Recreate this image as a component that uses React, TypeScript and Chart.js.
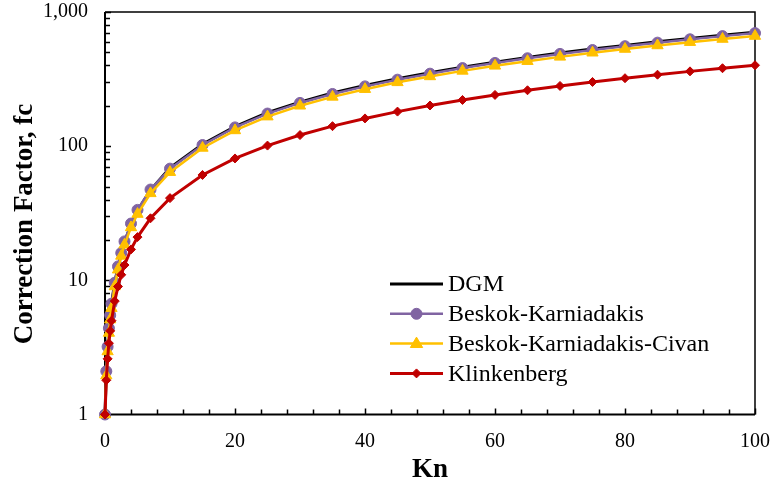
import React, { useEffect, useRef } from "react";
import { Chart, registerables } from "chart.js";

Chart.register(...registerables);

const knValues = [0, 0.2, 0.4, 0.6, 0.8, 1, 1.5, 2, 2.5, 3, 4, 5, 7, 10, 15, 20, 25, 30, 35, 40, 45, 50, 55, 60, 65, 70, 75, 80, 85, 90, 95, 100];

const dgm = [1, 2.1, 3.2, 4.4, 5.5, 6.7, 9.6, 12.6, 15.8, 19.2, 26, 33, 47, 69, 103.5, 140, 178, 213, 249, 283, 318, 352, 388, 423, 459, 494, 529, 564, 600, 635, 671, 706];

const beskokKarniadakis = [1, 2.1, 3.2, 4.4, 5.5, 6.7, 9.6, 12.7, 16, 19.5, 26.5, 33.5, 47.5, 68, 102, 138, 175, 210, 245, 279, 313, 347, 382, 417, 452, 487, 521, 556, 591, 626, 661, 696];

const beskokKarniadakisCivan = [1, 1.95, 2.95, 4.05, 5.1, 6.2, 9.0, 12.0, 15.2, 18.4, 24.8, 31.2, 44.5, 64, 97, 131, 166, 200, 233, 266, 299, 331, 364, 397, 430, 463, 497, 530, 563, 596, 629, 662];

const klinkenberg = [1, 1.8, 2.6, 3.4, 4.2, 5, 7, 9, 11, 13, 17, 21, 29, 41, 61, 81, 101, 121, 141, 161, 181, 201, 221, 241, 261, 281, 301, 321, 341, 361, 381, 401];

const seriesNames = ["DGM", "Beskok-Karniadakis", "Beskok-Karniadakis-Civan", "Klinkenberg"];
const yTickValues = [1, 10, 100, 1000];
const xTitle = "Kn";
const yTitle = "Correction Factor, fc";

const FONT = '"Liberation Serif", "Times New Roman", serif';

const styles = [
  { color: "#000000", width: 3, point: "circle", radius: 0 },
  { color: "#8064A2", width: 2.5, point: "circle", radius: 5.5 },
  { color: "#FFC000", width: 2.5, point: "triangle", radius: 6.5 },
  { color: "#C00000", width: 3, point: "rectRot", radius: 4.5 },
];

const customPlugin = {
  id: "customDecor",
  beforeDatasetsDraw(chart: any) {
    const { ctx, chartArea } = chart;
    const { left, right, top, bottom } = chartArea;
    const xs = chart.scales.x;
    const ys = chart.scales.y;
    ctx.save();
    ctx.strokeStyle = "#000";
    ctx.lineWidth = 1.5;
    ctx.beginPath();
    ctx.moveTo(left, top);
    ctx.lineTo(right, top);
    ctx.lineTo(right, bottom);
    ctx.stroke();
    ctx.lineWidth = 2;
    ctx.beginPath();
    ctx.moveTo(left, top);
    ctx.lineTo(left, bottom);
    ctx.lineTo(right, bottom);
    ctx.stroke();
    ctx.lineWidth = 1.5;
    ctx.beginPath();
    for (let v = 0; v <= 100; v += 4) {
      const px = Math.round(xs.getPixelForValue(v)) + 0.5;
      const len = v % 20 === 0 ? 6 : 5;
      ctx.moveTo(px, bottom);
      ctx.lineTo(px, bottom - len);
    }
    for (let d = 1; d <= 100; d *= 10) {
      for (let m = 1; m <= 9; m++) {
        const v = m * d;
        const py = Math.round(ys.getPixelForValue(v)) + 0.5;
        const len = m === 1 ? 6 : 5;
        ctx.moveTo(left, py);
        ctx.lineTo(left + len, py);
      }
    }
    const pyTop = Math.round(ys.getPixelForValue(1000)) + 0.5;
    ctx.moveTo(left, pyTop);
    ctx.lineTo(left + 6, pyTop);
    ctx.stroke();
    ctx.restore();
  },
  afterDraw(chart: any) {
    const { ctx } = chart;
    ctx.save();
    ctx.fillStyle = "#000";
    ctx.font = `bold 27px ${FONT}`;
    ctx.textAlign = "center";
    ctx.textBaseline = "middle";
    ctx.fillText(xTitle, 430, 470);
    ctx.translate(25, 224);
    ctx.rotate(-Math.PI / 2);
    ctx.fillText(yTitle, 0, 0);
    ctx.restore();

    ctx.save();
    const rows = [284, 313.8, 343.6, 373.4];
    const x0 = 390;
    const x1 = 443;
    chart.data.datasets.forEach((ds: any, i: number) => {
      const y = rows[i];
      const st = styles[i];
      ctx.strokeStyle = st.color;
      ctx.lineWidth = st.width;
      ctx.beginPath();
      ctx.moveTo(x0, y);
      ctx.lineTo(x1, y);
      ctx.stroke();
      if (st.radius > 0) {
        ctx.fillStyle = st.color;
        ctx.strokeStyle = st.color;
        ctx.lineWidth = 1;
        const cx = (x0 + x1) / 2;
        const r = st.radius;
        ctx.beginPath();
        if (st.point === "circle") {
          ctx.arc(cx, y, r, 0, Math.PI * 2);
        } else if (st.point === "triangle") {
          ctx.moveTo(cx, y - r);
          ctx.lineTo(cx + r * 0.95, y + r * 0.6);
          ctx.lineTo(cx - r * 0.95, y + r * 0.6);
          ctx.closePath();
        } else {
          ctx.moveTo(cx, y - r);
          ctx.lineTo(cx + r, y);
          ctx.lineTo(cx, y + r);
          ctx.lineTo(cx - r, y);
          ctx.closePath();
        }
        ctx.fill();
        ctx.stroke();
      }
      ctx.fillStyle = "#000";
      ctx.font = `24px ${FONT}`;
      ctx.textAlign = "left";
      ctx.textBaseline = "middle";
      ctx.fillText(ds.label, 448, y + 1);
    });
    ctx.restore();
  },
};

function zeroPadding(scale: any) {
  scale.paddingLeft = 0;
  scale.paddingRight = 0;
  scale.paddingTop = 0;
  scale.paddingBottom = 0;
}

export default function App() {
  const canvasRef = useRef<HTMLCanvasElement | null>(null);

  useEffect(() => {
    document.body.style.margin = "0";
    const canvas = canvasRef.current;
    if (!canvas) return;
    const seriesValues = [dgm, beskokKarniadakis, beskokKarniadakisCivan, klinkenberg];
    const datasets = seriesValues.map((vals, i) => ({
      label: seriesNames[i],
      data: knValues.map((k, j) => ({ x: k, y: vals[j] })),
      borderColor: styles[i].color,
      backgroundColor: styles[i].color,
      borderWidth: styles[i].width,
      pointStyle: styles[i].point,
      pointRadius: styles[i].radius,
      pointBorderWidth: 1,
      pointHoverRadius: styles[i].radius,
      tension: 0,
      fill: false,
      clip: false as any,
      order: 4 - i,
    }));

    const chart = new Chart(canvas, {
      type: "line",
      data: { datasets },
      plugins: [customPlugin],
      options: {
        responsive: false,
        animation: false,
        devicePixelRatio: 1,
        layout: { padding: { top: 12, right: 16, left: 0, bottom: 0 } },
        plugins: {
          legend: { display: false },
          tooltip: { enabled: false },
        },
        scales: {
          x: {
            type: "linear",
            min: 0,
            max: 100,
            grid: { display: false, drawTicks: false },
            border: { display: false },
            ticks: {
              stepSize: 20,
              padding: 15,
              color: "#000",
              font: { family: FONT, size: 20 },
              maxRotation: 0,
            },
            afterFit: (scale: any) => {
              scale.height = 76.5;
              zeroPadding(scale);
            },
          },
          y: {
            type: "logarithmic",
            min: 1,
            max: 1000,
            grid: { display: false, drawTicks: false },
            border: { display: false },
            ticks: {
              padding: 17,
              color: "#000",
              font: { family: FONT, size: 20 },
              callback: (v: any) => Number(v).toLocaleString("en-US"),
            },
            afterBuildTicks: (scale: any) => {
              scale.ticks = yTickValues.map((v) => ({ value: v }));
            },
            afterFit: (scale: any) => {
              scale.width = 105;
              zeroPadding(scale);
            },
          },
        },
      },
    });
    return () => chart.destroy();
  }, []);

  return (
    <div style={{ width: 771, height: 491 }}>
      <canvas ref={canvasRef} width={771} height={491} />
    </div>
  );
}
